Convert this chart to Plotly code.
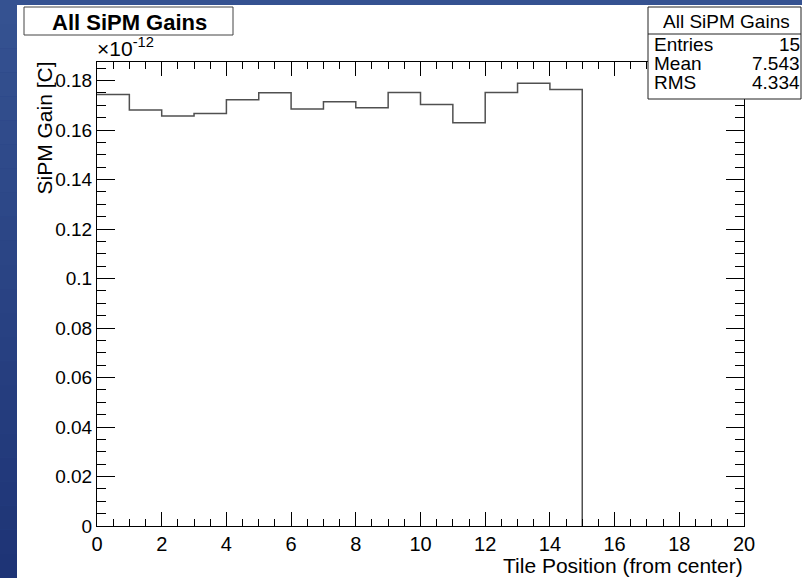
import plotly.graph_objects as go

# ---------------- data ----------------
tile_position = list(range(15))          # bin low edges (bin width 1)
sipm_gain_e12 = [0.1744, 0.1681, 0.1657, 0.1667, 0.1722, 0.1751, 0.1685, 0.1714,
                 0.1690, 0.1752, 0.1703, 0.1630, 0.1752, 0.1789, 0.1764]  # x 1e-12 C
x_tick_labels = ["0", "2", "4", "6", "8", "10", "12", "14", "16", "18", "20"]
y_tick_labels = ["0", "0.02", "0.04", "0.06", "0.08", "0.1", "0.12", "0.14", "0.16", "0.18"]
stats_names = ["Entries", "Mean", "RMS"]
stats_values = ["15", "7.543", "4.334"]
hist_title = "All SiPM Gains"

# ---------------- geometry helpers ----------------
W, H = 802, 578
L, R, T, B = 97, 744, 62, 526
PW, PH = R - L, B - T


def px(x):
    return (x - L) / PW


def py(y):
    return (B - y) / PH


FONT = "Liberation Sans, Arial, Helvetica, sans-serif"

# histogram outline: steps through bin edges, drop to zero after last bin
xs = tile_position + [tile_position[-1] + 1, tile_position[-1] + 1]
ys = sipm_gain_e12 + [sipm_gain_e12[-1], 0]

fig = go.Figure()
fig.add_trace(go.Scatter(x=xs, y=ys, mode="lines", line=dict(shape="hv", color="#505050", width=1.5),
                         hoverinfo="skip", showlegend=False))

shapes = []
# blue gradient background strips (left and top border)
n = 24
top_c = (53, 82, 145)
bot_c = (30, 52, 118)
for i in range(n):
    f = i / (n - 1)
    c = tuple(int(round(top_c[k] + (bot_c[k] - top_c[k]) * f)) for k in range(3))
    shapes.append(dict(type="rect", xref="paper", yref="paper", layer="below",
                       x0=px(0), x1=px(W), y0=py(H * (i + 1) / n), y1=py(H * i / n),
                       fillcolor="rgb(%d,%d,%d)" % c, line=dict(width=0)))
# white canvas
shapes.append(dict(type="rect", xref="paper", yref="paper", layer="below",
                   x0=px(17), x1=px(W + 2), y0=py(H + 2), y1=py(5),
                   fillcolor="white", line=dict(width=0)))
# title box
shapes.append(dict(type="rect", xref="paper", yref="paper", layer="above",
                   x0=px(24), x1=px(233), y0=py(35), y1=py(7),
                   fillcolor="white", line=dict(color="#444", width=1)))
# stats box
shapes.append(dict(type="rect", xref="paper", yref="paper", layer="above",
                   x0=px(648), x1=px(801), y0=py(99), y1=py(7),
                   fillcolor="white", line=dict(color="#222", width=1)))
shapes.append(dict(type="line", xref="paper", yref="paper", layer="above",
                   x0=px(648), x1=px(801), y0=py(34), y1=py(34),
                   line=dict(color="#222", width=1)))

annotations = [
    dict(text="<b>%s</b>" % hist_title, x=px(129), y=py(23), xref="paper", yref="paper",
         showarrow=False, xanchor="center", yanchor="middle",
         font=dict(family=FONT, size=22, color="black")),
    dict(text=hist_title, x=px(726), y=py(21), xref="paper", yref="paper",
         showarrow=False, xanchor="center", yanchor="middle", height=20, borderpad=0,
         font=dict(family=FONT, size=19, color="black")),
    dict(text="×10<sup>-12</sup>", x=px(95), y=py(62), xref="paper", yref="paper",
         showarrow=False, xanchor="left", yanchor="bottom",
         font=dict(family=FONT, size=21, color="black")),
    dict(text="SiPM Gain [C]", x=px(44), y=py(60), xref="paper", yref="paper",
         showarrow=False, xanchor="center", yanchor="top", textangle=-90,
         font=dict(family=FONT, size=21, color="black")),
    dict(text="Tile Position (from center)", x=px(745), y=py(565), xref="paper", yref="paper",
         showarrow=False, xanchor="right", yanchor="middle",
         font=dict(family=FONT, size=21, color="black")),
]
row_y = [44, 63, 82]
for name, val, yy in zip(stats_names, stats_values, row_y):
    annotations.append(dict(text=name, x=px(653), y=py(yy), xref="paper", yref="paper",
                            showarrow=False, xanchor="left", yanchor="middle", height=18, borderpad=0,
                            font=dict(family=FONT, size=19, color="black")))
    annotations.append(dict(text=val, x=px(801), y=py(yy), xref="paper", yref="paper",
                            showarrow=False, xanchor="right", yanchor="middle", height=18, borderpad=0,
                            font=dict(family=FONT, size=19, color="black")))

x_tick_vals = [float(t) for t in x_tick_labels]
y_tick_vals = [float(t) for t in y_tick_labels]

fig.update_layout(
    width=W, height=H,
    margin=dict(l=L, r=W - R, t=T, b=H - B, pad=0),
    paper_bgcolor="rgb(42,67,132)",
    plot_bgcolor="white",
    showlegend=False,
    shapes=shapes,
    annotations=annotations,
    font=dict(family=FONT, size=19, color="black"),
    xaxis=dict(range=[0, 20], tickvals=x_tick_vals, ticktext=x_tick_labels,
               ticks="inside", ticklen=14, tickwidth=1, tickcolor="black",
               showline=True, linecolor="black", linewidth=1, mirror="ticks",
               showgrid=False, zeroline=False,
               minor=dict(dtick=0.5, tick0=0, ticks="inside", ticklen=7, tickcolor="black", showgrid=False),
               tickfont=dict(family=FONT, size=20)),
    yaxis=dict(range=[0, 0.1875], tickvals=y_tick_vals, ticktext=y_tick_labels,
               ticks="inside", ticklen=18, tickwidth=1, tickcolor="black",
               showline=True, linecolor="black", linewidth=1, mirror="ticks",
               showgrid=False, zeroline=False,
               minor=dict(dtick=0.005, tick0=0, ticks="inside", ticklen=9, tickcolor="black", showgrid=False),
               tickfont=dict(family=FONT, size=19)),
)

fig.write_html("out.html", config={"displayModeBar": False},
               post_script="document.body.style.margin='0';document.body.style.padding='0';"
                           "document.documentElement.style.overflow='hidden';")
